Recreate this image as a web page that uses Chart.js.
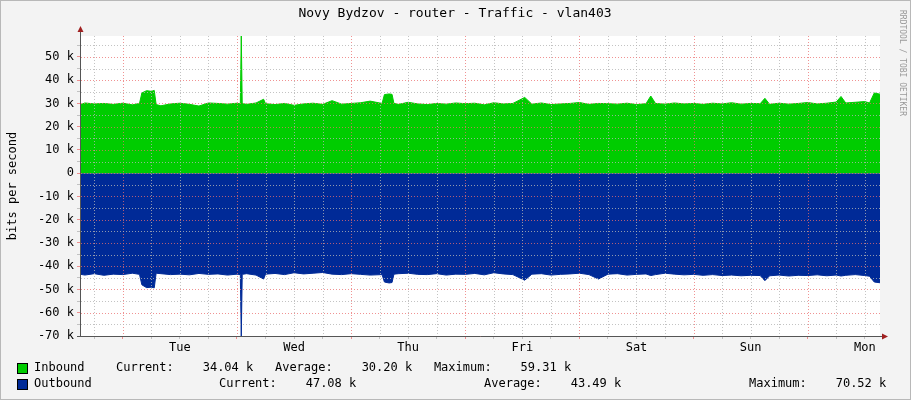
<!DOCTYPE html>
<html>
<head>
<meta charset="utf-8">
<script src="https://cdn.jsdelivr.net/npm/chart.js@4"></script>
<style>
  body { margin: 0; background: #f3f3f3; }
  #wrap { width: 911px; height: 400px; }
</style>
</head>
<body>
<div id="wrap"><canvas id="trafficCanvas" width="911" height="400"></canvas></div>
<script>
// hours relative to Tuesday 00:00
var hours = [-8.8,-8,-6,-4,-2,0,2,3.5,4,5,6,6.6,7,8,10,12,14,16,18,20,22,24,24.7,24.9,25.1,26,28,29.6,30,32,34,36,38,40,42,44,46,48,50,52,54.5,55,56,56.6,57,58,60,62,64,66,68,70,72,74,76,78,80,82,84.5,86,88,90,92,94,96,98,100,102,104,106,108,110,111,112,114,116,118,120,122,124,126,128,130,132,134,135,136,138,140,142,144,146,148,150,151,152,154,156,157,158,159.2];
var inbound = [29.5,30.2,29.8,30.0,29.6,30.1,29.4,30.0,34.5,35.5,35.2,35.6,29.5,29.0,29.8,30.1,29.6,28.9,30.2,30.0,29.7,30.1,29.8,59.3,30.0,29.6,30.2,31.8,29.9,29.5,30.0,29.2,29.8,30.1,29.6,31.2,29.7,30.0,30.3,31.0,30.0,33.8,34.1,33.9,30.0,29.6,30.5,29.8,29.5,30.0,29.7,30.2,29.9,30.1,29.4,30.3,29.8,30.0,32.6,29.7,30.2,29.5,29.8,30.0,30.4,29.6,30.0,29.9,29.7,30.1,29.5,29.9,33.2,30.0,29.7,30.2,29.8,30.0,29.6,30.1,29.8,30.3,29.7,30.0,29.9,32.2,29.6,30.1,29.7,30.0,30.4,29.8,30.1,30.6,33.0,30.2,30.5,30.8,30.2,34.5,34.0];
var outbound = [-43.5,-43.8,-43.2,-43.9,-43.4,-43.6,-43.0,-43.5,-48.0,-49.2,-49.0,-49.3,-43.0,-43.2,-43.6,-43.4,-43.7,-43.1,-43.5,-43.3,-43.8,-43.4,-43.6,-70.5,-43.5,-43.2,-43.8,-45.5,-43.4,-43.1,-43.6,-42.8,-43.3,-43.0,-42.7,-43.4,-43.6,-43.2,-43.5,-43.8,-43.6,-46.8,-47.2,-47.0,-43.4,-43.2,-43.0,-43.5,-43.6,-43.2,-43.8,-43.4,-43.5,-43.1,-43.7,-42.8,-43.3,-43.6,-46.0,-43.4,-43.2,-43.8,-43.5,-43.3,-43.0,-43.6,-45.5,-43.4,-43.2,-43.8,-43.5,-43.3,-44.0,-43.6,-43.0,-43.4,-43.7,-43.5,-43.9,-43.6,-44.0,-43.8,-44.1,-43.9,-44.0,-46.2,-44.1,-43.8,-44.2,-43.9,-44.0,-43.7,-44.1,-43.8,-44.2,-43.9,-43.6,-44.0,-44.3,-46.8,-47.1];
var dayNames = ["Tue","Wed","Thu","Fri","Sat","Sun","Mon"];
var legendLines = [
  {name: "Inbound", color: "#00cc00", parts: [[116, "Current:    34.04 k   Average:    30.20 k   Maximum:    59.31 k"]]},
  {name: "Outbound", color: "#002a97", parts: [[219, "Current:    47.08 k"], [484, "Average:    43.49 k"], [749, "Maximum:    70.52 k"]]}
];

var font = "'DejaVu Sans Mono', monospace";
var majorGrid = 'rgba(235,110,110,0.75)';
var minorGrid = 'rgba(180,180,180,0.8)';

function pts(vals) {
  return hours.map(function(h, i) { return {x: h, y: vals[i] * 1000}; });
}

const rrdDecor = {
  id: 'rrd_decor',
  beforeDraw: (chart) => {
    const {ctx} = chart;
    ctx.save();
    ctx.fillStyle = '#f3f3f3';
    ctx.fillRect(0, 0, chart.width, chart.height);
    const a = chart.chartArea;
    ctx.fillStyle = '#ffffff';
    ctx.fillRect(a.left, a.top, a.right - a.left, a.bottom - a.top);
    ctx.restore();
  },
  afterDatasetsDraw: (chart) => {
    // rrdtool draws its dotted grid on top of the areas
    const {ctx} = chart;
    const a = chart.chartArea;
    const xs = chart.scales.x, ys = chart.scales.y;
    ctx.save();
    ctx.lineWidth = 1;
    ctx.setLineDash([1, 2]);
    xs.ticks.forEach(function(t) {
      var px = Math.round(xs.getPixelForValue(t.value)) + 0.5;
      ctx.strokeStyle = t.value % 24 === 0 ? majorGrid : minorGrid;
      ctx.beginPath(); ctx.moveTo(px, a.top); ctx.lineTo(px, a.bottom); ctx.stroke();
    });
    ys.ticks.forEach(function(t) {
      var py = Math.round(ys.getPixelForValue(t.value)) + 0.5;
      ctx.strokeStyle = t.value % 10000 === 0 ? majorGrid : minorGrid;
      ctx.beginPath(); ctx.moveTo(a.left, py); ctx.lineTo(a.right, py); ctx.stroke();
    });
    ctx.restore();
  },
  afterDraw: (chart) => {
    const {ctx} = chart;
    const a = chart.chartArea;
    ctx.save();
    ctx.strokeStyle = '#b8b8b8';
    ctx.strokeRect(0.5, 0.5, chart.width - 1, chart.height - 1);
    ctx.fillStyle = '#000';
    ctx.font = '13px ' + font;
    ctx.textAlign = 'center';
    ctx.textBaseline = 'middle';
    ctx.fillText('Novy Bydzov - router - Traffic - vlan403', 455, 14);
    // axes + arrows
    ctx.strokeStyle = '#555';
    ctx.lineWidth = 1;
    ctx.beginPath();
    ctx.moveTo(a.left - 0.5, a.bottom); ctx.lineTo(a.left - 0.5, a.top - 6);
    ctx.moveTo(a.left - 4, a.bottom + 0.5); ctx.lineTo(a.right + 4, a.bottom + 0.5);
    ctx.stroke();
    ctx.fillStyle = '#a02020';
    ctx.beginPath();
    ctx.moveTo(a.left - 3.5, a.top - 4); ctx.lineTo(a.left + 2.5, a.top - 4); ctx.lineTo(a.left - 0.5, a.top - 10); ctx.fill();
    ctx.beginPath();
    ctx.moveTo(a.right + 2, a.bottom - 2.5); ctx.lineTo(a.right + 2, a.bottom + 3.5); ctx.lineTo(a.right + 8, a.bottom + 0.5); ctx.fill();
    ctx.fillStyle = '#999';
    ctx.font = '8px ' + font;
    ctx.translate(902, 10);
    ctx.rotate(Math.PI / 2);
    ctx.textAlign = 'left';
    ctx.fillText('RRDTOOL / TOBI OETIKER', 0, 0);
    ctx.restore();
    // legend
    ctx.save();
    ctx.font = '12px ' + font;
    ctx.textBaseline = 'middle';
    ctx.textAlign = 'left';
    var ys = [368, 384];
    legendLines.forEach(function(l, i) {
      var y = ys[i];
      ctx.fillStyle = l.color;
      ctx.fillRect(17, y - 5, 10, 10);
      ctx.strokeStyle = '#000';
      ctx.strokeRect(17.5, y - 4.5, 10, 10);
      ctx.fillStyle = '#000';
      ctx.fillText(l.name, 34, y);
      l.parts.forEach(function(p) { ctx.fillText(p[1], p[0], y); });
    });
    ctx.restore();
  }
};

var canvas = document.getElementById("trafficCanvas");
new Chart(canvas, {
  type: 'line',
  plugins: [rrdDecor],
  data: {
    datasets: [
      {data: pts(inbound), backgroundColor: '#00cc00', borderColor: '#00cc00', borderWidth: 1, fill: 'origin', pointRadius: 0, tension: 0},
      {data: pts(outbound), backgroundColor: '#002a97', borderColor: '#002a97', borderWidth: 1, fill: 'origin', pointRadius: 0, tension: 0}
    ]
  },
  options: {
    responsive: false,
    animation: false,
    layout: {padding: {top: 36, right: 31, bottom: 44, left: 6}},
    plugins: {legend: {display: false}, tooltip: {enabled: false}},
    scales: {
      x: {
        type: 'linear', min: -8.8, max: 159.2,
        afterBuildTicks: function(s) {
          var t = [];
          for (var h = -6; h <= 156; h += 6) t.push({value: h});
          s.ticks = t;
        },
        afterFit: function(s) { s.height = 20; },
        border: {display: false},
        grid: {
          drawOnChartArea: false, tickLength: 3,
          color: function(c) { return c.tick && c.tick.value % 24 === 0 ? majorGrid : minorGrid; }
        },
        ticks: {
          autoSkip: false, maxRotation: 0, color: '#000', padding: 2,
          font: {family: font, size: 12},
          callback: function(v) { return ((v % 24) + 24) % 24 === 12 ? dayNames[Math.floor(v / 24)] : ''; }
        }
      },
      y: {
        min: -70000, max: 59000,
        afterBuildTicks: function(s) {
          var t = [];
          for (var v = -70000; v <= 55000; v += 5000) t.push({value: v});
          s.ticks = t;
        },
        afterFit: function(s) { s.width = 75; },
        border: {display: false},
        grid: {
          drawOnChartArea: false, tickLength: 4,
          color: function(c) { return c.tick && c.tick.value % 10000 === 0 ? majorGrid : minorGrid; }
        },
        title: {display: true, text: 'bits per second', color: '#000', font: {family: font, size: 12}, padding: 0},
        ticks: {
          autoSkip: false, color: '#000', padding: 3,
          font: {family: font, size: 12},
          callback: function(v) { return v % 10000 !== 0 ? '' : (v === 0 ? '0' : (v / 1000) + ' k'); }
        }
      }
    }
  }
});
</script>
</body>
</html>
